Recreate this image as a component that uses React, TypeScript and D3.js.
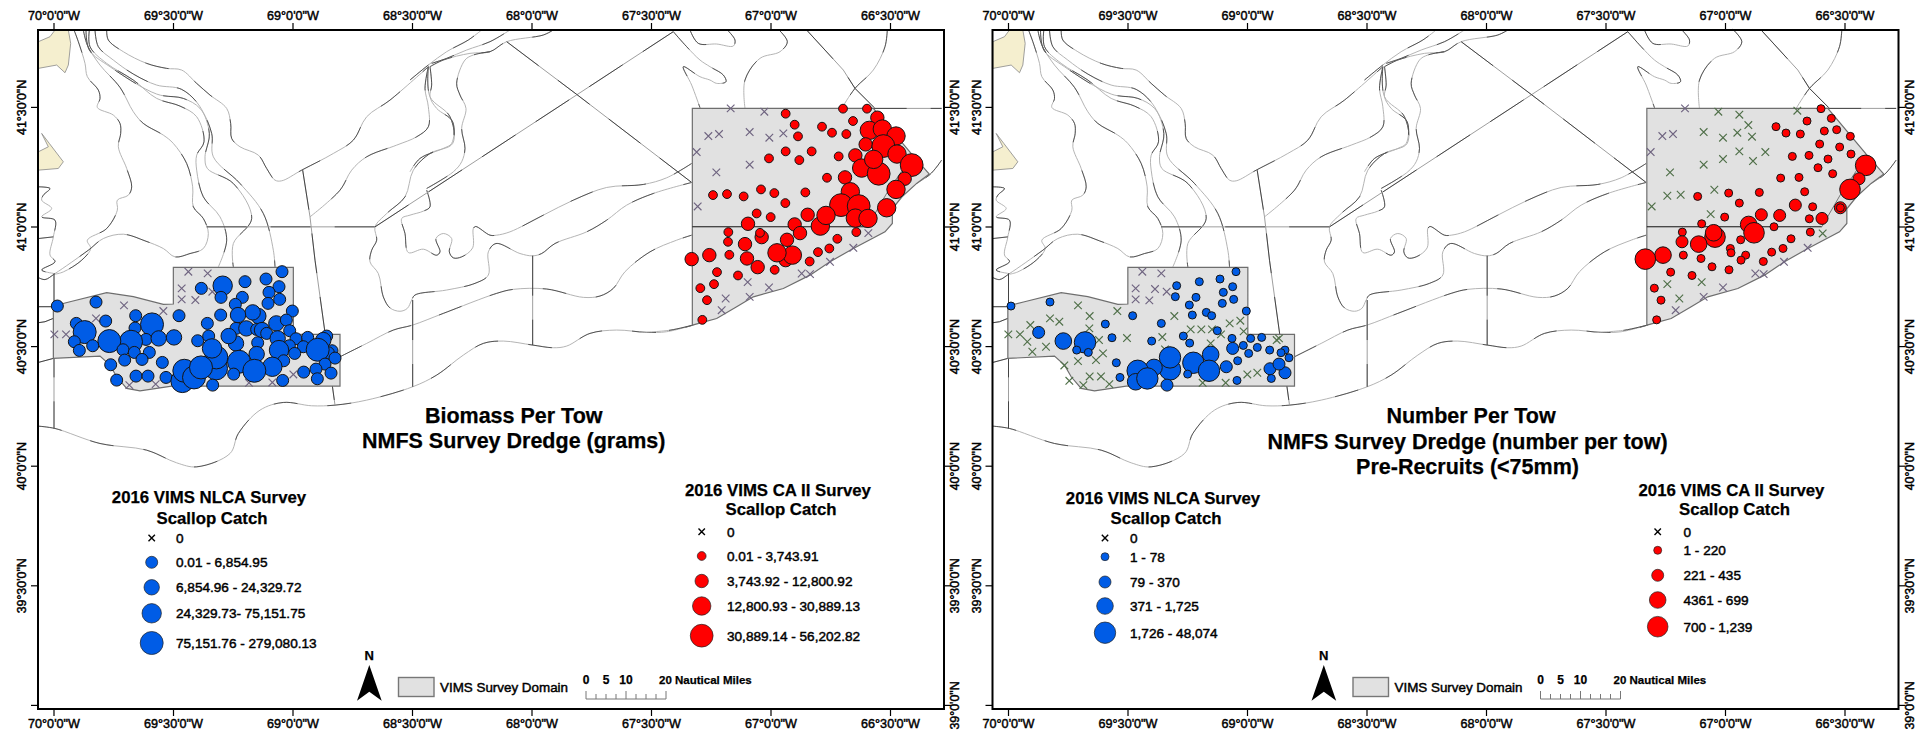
import React from "react";
import * as d3 from "d3";

// Positions are degrees: a sheet origin (lon, lat) plus [east, south] offsets in GRID steps per degree.
const GRID = 717;
const S1 = { lon: -70.2259, lat: 41.949 };
const S2 = { lon: -70.2259, lat: 40.9457 };
const S3 = { lon: -67.5481, lat: 41.6146 };
const S9 = { lon: -68.5105, lat: 41.8445 };
const S10 = { lon: -68.5523, lat: 40.8202 };
const S11 = { lon: -67.2971, lat: 41.8654 };
const SB = { lon: -70.2448, lat: 40.9457 };
const SR = { lon: -67.5251, lat: 41.6146 };
const from = (s: { lon: number; lat: number }, pts: number[][]) =>
  pts.map((p) => [s.lon + p[0] / GRID, s.lat - p[1] / GRID, p[2]] as number[]);

// Land
const capeCod = from(S1, [[115,125],[150,110],[165,90],[205,90],[212,130],[205,195],[195,218],[170,195],[115,205]]);
const nantucket = from(S1, [[125,400],[148,430],[190,485],[175,505],[115,510],[115,455],[145,440]]);

// Bathymetry contours (smooth)
const contourLines = [
  from(S1, [[222,90],[235,125],[255,190],[262,230],[295,270],[300,295],[292,322],[340,345],[360,370],[362,400],[355,440],[380,505],[395,560],[385,585],[352,600],[352,630],[320,685],[262,720],[272,745],[245,780],[190,815],[165,822]]),
  from(S1, [[250,90],[262,135],[300,195],[360,262],[400,335],[430,370],[490,405],[520,430],[560,490],[578,560],[580,620],[610,655],[625,700],[610,745],[570,760],[525,770],[490,745],[435,722],[370,702],[310,715],[265,750],[165,820],[135,838],[115,832]]),
  from(S1, [[268,90],[270,140],[320,190],[400,240],[470,295],[540,318],[590,350],[612,425],[590,465],[590,510],[610,590],[660,650],[680,720],[655,800]]),
  from(S1, [[285,90],[295,140],[340,180],[400,222],[470,255],[545,268],[600,320],[628,400],[615,470],[622,505],[700,550],[755,655],[700,730],[700,800]]),
  from(S1, [[258,90],[268,150],[330,200],[470,282],[550,295],[600,325],[635,400],[640,470],[720,550],[790,640],[820,750],[825,800]]),
  from(S1, [[320,90],[325,120],[370,155],[440,190],[500,205],[545,210],[590,250],[630,285],[680,325],[692,370],[695,415],[720,440],[775,465],[800,505],[825,540],[845,542],[905,510],[1000,460],[1060,420],[1100,350],[1170,300],[1285,200]]),
  from(S1, [[1285,200],[1275,265],[1285,320],[1285,380],[1250,410],[1190,435],[1100,470],[1055,510],[1020,570],[930,650]]),
  [...from(S1, [[1285,200],[1290,290],[1350,350],[1358,430],[1290,460],[1240,510],[1215,590],[1160,640],[1125,680],[1130,720],[1115,750],[1110,785],[1135,820],[1150,890],[1170,923],[1200,933]]),
   ...from(S10, [[22,115],[35,90],[45,75],[140,60],[225,40],[265,15]]),
   ...from(S9, [[235,680],[258,655],[330,685],[368,692],[395,685],[435,655],[530,620],[590,585],[650,540],[730,505],[845,472]])],
  [...from(S1, [[115,560],[150,565],[130,585],[125,600],[155,625],[125,650],[165,660],[160,710]]),
   ...from(S2, [[150,45],[165,65],[125,90],[160,100]])],
  from(S1, [[160,710],[115,715]]),
  [...from(S9, [[50,495],[60,545],[40,558],[0,570]]),
   ...from(S1, [[1205,655],[1215,700],[1225,757]]),
   ...from(S9, [[40,672],[80,690],[90,680],[78,640],[100,625],[125,640],[118,680],[130,698],[155,695],[188,668],[190,610],[197,604],[240,630],[260,630],[300,620],[400,570],[490,525],[590,487],[700,478],[770,458],[845,415]])],
  [...from(S2, [[115,558],[165,565],[300,610],[440,630],[530,668],[590,680],[690,640],[715,580],[780,510],[850,487],[935,497],[1005,495],[1100,480],[1238,440]]),
   ...from(S10, [[110,315],[190,255],[250,220],[310,213],[398,225],[460,233],[500,228],[570,190],[650,180],[740,187],[800,185],[880,165]])],
  [...from(S2, [[1020,350],[1100,310],[1180,270],[1238,255]]),
   ...from(S10, [[130,130],[290,70],[340,58],[440,57],[550,82],[600,78],[640,55],[675,5]]),
   ...from(S9, [[720,680],[800,645],[845,630]])],
  from(S9, [[0,165],[55,120],[110,80],[175,45],[215,15]]),
  from(S9, [[60,125],[100,105],[180,85],[240,80],[290,50],[400,30],[430,15]]),
  from(S9, [[65,115],[110,100],[170,75],[240,50],[300,15]]),
  from(S9, [[50,490],[130,440],[155,410],[165,370],[155,310],[168,250],[150,210],[140,175],[165,105],[190,90],[240,80]]),
  from(S9, [[60,125],[65,180],[60,215],[80,250],[128,290],[125,355],[100,370],[30,400],[0,440]]),
  from(S11, [[-30,30],[-5,70],[50,72],[100,78],[105,60],[80,28]]),
  from(S11, [[-80,35],[-40,80],[0,120],[30,140],[70,165],[78,185],[50,190],[30,180],[0,170],[-50,140],[-25,195],[0,263]]),
  from(S11, [[235,28],[262,65],[240,95],[180,115],[135,180],[135,265]]),
  from(S11, [[562,28],[555,80],[520,150],[465,205],[425,265]]),
  from(S3, [[905,240],[868,285],[795,328]]),
  from(S3, [[157,735],[90,750],[0,757]]),
];

// Straight boundary lines
const boundaryLines = [
  from(S1, [[620,680],[1125,680]]),
  [...from(S1, [[908,510],[930,650],[945,780]]), ...from(S2, [[1005,495]])],
  [...from(S1, [[1125,680]]), ...from(S9, [[790,20]])],
  from(S9, [[290,50],[500,208],[845,472]]),
  from(S2, [[162,100],[162,565]]),
  from(S2, [[1238,180],[1238,440]]),
  from(S10, [[398,-43],[398,225]]),
  from(S2, [[115,200],[160,200]]),
  from(S2, [[115,248],[135,245],[160,235]]),
  from(S2, [[115,367],[160,355]]),
  from(S11, [[318,28],[430,150],[465,205],[525,265]]),
  from(S11, [[500,265],[725,265]]),
];

// Survey domains
const domainNLCA = from(S2, [[160,198],[210,185],[320,158],[400,170],[490,193],[520,192],[520,82],[880,82],[880,283],[1020,283],[1020,438],[515,438],[470,445],[420,452],[380,445],[350,410],[330,375],[300,348],[160,355]]);
const domainCA2 = from(S3, [[157,85],[700,85],[815,222],[868,282],[830,310],[786,350],[757,386],[757,430],[735,455],[640,505],[570,545],[510,585],[430,625],[340,650],[290,680],[230,715],[157,735]]);
const domainLines = [
  from(S3, [[157,440],[682,440]]),
  from(S3, [[682,440],[737,345],[787,270],[812,225]]),
];

// Panel 1: biomass per tow. Stations: east, south, catch class
const biomassNLCAZero = from(S2, [[565,95],[623,100],[545,145],[545,178],[586,180],[637,155],[372,196],[490,213],[288,235],[163,283],[198,283],[388,435],[467,432],[747,428],[817,427],[880,403]]);
const biomassNLCA = from(S2, [[172,198,1],[288,186,1],[846,95,1],[735,125,1],[798,117,1],[837,140,1],[668,137,3],[604,145,1],[807,157,1],[839,178,1],[663,172,1],[727,172,1],[804,190,1],[706,193,1],[877,213,1],[662,225,1],[537,227,1],[775,228,2],[758,217,2],[714,225,2],[829,250,2],[859,240,1],[622,250,1],[407,227,1],[317,243,1],[229,250,1],[254,276,4],[405,264,1],[456,253,4],[869,272,1],[708,265,1],[739,265,2],[770,268,1],[786,270,2],[800,280,1],[888,296,1],[923,292,1],[980,288,1],[970,300,2],[522,292,2],[438,298,1],[476,295,2],[393,305,4],[328,303,4],[223,305,1],[278,317,1],[238,331,1],[369,329,1],[403,337,1],[448,337,1],[593,302,1],[626,288,1],[708,310,2],[686,288,2],[773,308,1],[833,295,2],[868,317,1],[910,320,1],[837,330,3],[884,340,1],[996,332,1],[985,338,1],[953,329,4],[770,342,2],[1005,354,1],[851,362,1],[374,360,1],[426,358,1],[487,367,1],[332,374,1],[975,372,1],[648,385,4],[649,352,4],[636,325,3],[717,365,4],[817,380,3],[763,392,4],[948,387,1],[993,399,1],[911,396,1],[701,402,1],[350,420,1],[408,408,1],[444,408,1],[498,412,1],[952,416,1],[547,423,4],[553,392,4],[582,412,4],[603,382,4],[638,435,1],[848,421,1]]);
const biomassCA2Zero = from(S3, [[272,85],[373,95],[205,168],[237,162],[329,156],[388,173],[430,160],[170,216],[329,254],[229,277],[173,379],[685,459],[640,503],[570,545],[485,580],[510,582],[323,606],[387,622],[257,655],[329,650],[245,690]]);
const biomassCA2 = from(S3, [[437,101,1],[609,86,1],[681,86,1],[464,134,1],[639,123,1],[546,140,1],[576,158,1],[619,162,1],[474,169,1],[712,113,2],[688,151,3],[727,147,3],[768,168,3],[677,193,2],[730,198,4],[437,214,1],[515,214,1],[596,229,1],[387,235,1],[478,240,1],[646,226,2],[771,222,3],[665,264,3],[716,281,4],[701,238,3],[815,255,4],[561,293,1],[615,292,2],[794,296,2],[768,328,3],[219,345,1],[261,342,1],[311,349,1],[363,328,1],[403,339,1],[496,337,1],[631,335,3],[436,369,1],[740,383,3],[603,375,4],[656,378,4],[350,400,1],[392,411,1],[503,404,2],[541,438,3],[558,406,3],[646,414,3],[684,415,3],[324,431,2],[464,433,2],[480,459,2],[649,456,1],[265,456,1],[365,471,2],[360,458,1],[264,485,1],[441,479,2],[592,476,1],[315,492,2],[568,505,1],[208,525,2],[268,524,1],[534,516,1],[155,537,2],[321,535,2],[437,540,2],[457,525,3],[411,518,3],[509,544,1],[353,561,2],[231,576,1],[404,569,1],[294,586,1],[222,612,1],[181,624,1],[201,660,1],[187,719,1]]);

// Panel 2: number per tow (pre-recruits)
const numberNLCAZeroA = from(SB, [[577,95],[634,100],[557,145],[615,147],[650,155],[557,178],[598,181]]);
const numberNLCAZeroB = from(SB, [[384,196],[502,213],[241,255],[300,235],[328,245],[419,228],[673,228],[418,265],[722,268],[754,268],[786,268],[839,250],[871,242],[881,274],[813,283],[175,283],[210,283],[232,305],[288,320],[247,335],[447,300],[531,294],[637,291],[782,310],[987,295],[980,300],[459,340],[438,360],[384,363],[343,376],[645,328],[892,403],[922,398],[419,409],[453,409],[358,422],[400,435],[478,432],[758,428],[827,428]]);
const numberNLCA = from(SB, [[183,198,1],[300,186,1],[858,95,1],[748,125,1],[810,117,1],[848,140,1],[680,137,1],[820,157,1],[851,178,1],[676,170,1],[738,172,1],[817,190,1],[718,195,1],[889,213,1],[548,227,1],[727,225,1],[769,217,1],[785,227,1],[466,252,1],[634,250,1],[802,272,1],[266,277,2],[340,303,3],[405,307,4],[486,293,1],[700,288,1],[605,303,1],[719,309,1],[846,295,1],[902,295,1],[935,292,1],[880,316,1],[922,322,1],[848,325,2],[959,330,1],[1005,330,1],[993,338,1],[380,330,1],[415,337,1],[896,340,1],[1017,353,1],[863,362,1],[499,368,1],[782,343,3],[660,388,4],[660,352,4],[612,382,3],[563,392,4],[730,368,4],[829,380,2],[777,392,4],[960,386,2],[1005,398,2],[987,372,2],[713,402,1],[510,412,1],[964,415,1],[557,425,3],[592,415,4],[651,435,2],[861,421,1]]);
const numberCA2ZeroA = from(SR, [[255,85],[187,168],[219,162],[152,216],[623,503],[552,545],[466,580],[491,582],[369,622],[311,650],[227,690]]);
const numberCA2ZeroB = from(SR, [[355,95],[592,92],[418,104],[445,135],[311,156],[369,173],[412,158],[456,170],[418,214],[496,216],[369,237],[459,243],[311,254],[210,277],[202,347],[242,344],[343,329],[155,379],[332,402],[668,460],[305,606],[202,612],[238,655]]);
const numberCA2 = from(SR, [[663,86,1],[694,115,1],[621,123,1],[710,149,1],[528,140,1],[558,159,1],[601,162,1],[673,153,1],[751,169,1],[659,192,1],[719,201,1],[753,222,1],[577,229,1],[627,226,1],[684,237,1],[654,263,1],[797,256,4],[698,281,1],[542,294,1],[597,292,1],[777,296,2],[750,328,4],[614,335,1],[293,349,1],[386,339,1],[478,337,1],[418,369,1],[586,375,2],[638,380,1],[721,383,2],[721,383,1],[374,411,1],[484,404,2],[539,406,2],[628,416,1],[666,415,2],[305,431,1],[446,433,3],[522,440,1],[247,456,1],[631,456,1],[345,471,4],[341,458,3],[462,458,4],[422,479,1],[246,485,2],[573,476,1],[296,492,3],[391,505,1],[393,518,1],[549,505,1],[515,516,1],[250,525,1],[437,525,1],[303,535,1],[423,540,1],[490,544,1],[189,525,3],[136,537,4],[336,560,1],[212,576,1],[387,569,1],[276,586,1],[163,624,1],[183,660,1],[170,719,1]]);

// Axes
const lonTicks = [-70, -69.5, -69, -68.5, -68, -67.5, -67, -66.5];
const latTicks = [41.5, 41, 40.5, 40, 39.5, 39];
const scaleMiles = [0, 2.5, 5, 7.5, 10, 12.5, 15, 17.5, 20];

// Legend labels
const biomassLabelsNLCA = ["0", "0.01 - 6,854.95", "6,854.96 - 24,329.72", "24,329.73- 75,151.75", "75,151.76 - 279,080.13"];
const biomassLabelsCA2 = ["0", "0.01 - 3,743.91", "3,743.92 - 12,800.92", "12,800.93 - 30,889.13", "30,889.14 - 56,202.82"];
const numberLabelsNLCA = ["0", "1 - 78", "79 - 370", "371 - 1,725", "1,726 - 48,074"];
const numberLabelsCA2 = ["0", "1 - 220", "221 - 435", "4361 - 699", "700 - 1,239"];

const x = d3.scaleLinear().domain([-70, -66.5]).range([54, 890.5]);
const y = d3.scaleLinear().domain([41.5, 39]).range([107.4, 705.4]);
const milesX = d3.scaleLinear().domain([0, 20]).range([0, 80]);
const PANEL2 = 954.5;
const BLUE = "#005ce6";
const RED = "#ff0000";
const FONT = "'Liberation Sans', Arial, sans-serif";
const smooth = d3.line<number[]>().x((d) => x(d[0])).y((d) => y(d[1])).curve(d3.curveCatmullRom.alpha(0.5));
const straight = d3.line<number[]>().x((d) => x(d[0])).y((d) => y(d[1]));
const area = d3.line<number[]>().x((d) => x(d[0])).y((d) => y(d[1])).curve(d3.curveLinearClosed);

const dms = (v: number, h: string) => {
  const a = Math.abs(v);
  const d = Math.floor(a);
  const m = Math.round((a - d) * 60);
  return `${d}°${m}'0"${h}`;
};

function T({ x: tx, y: ty, s = 13.6, b = false, a = "start", children, rot, sw }: any) {
  return (
    <text
      x={tx}
      y={ty + s * 0.36}
      fontSize={s}
      fontWeight={b ? 700 : 400}
      textAnchor={a}
      fontFamily={FONT}
      fill="#000"
      stroke="#000"
      strokeWidth={sw ?? (b ? 0.25 : 0.45)}
      transform={rot ? `rotate(${rot} ${tx} ${ty})` : undefined}
    >
      {children}
    </text>
  );
}

function Cross({ cx, cy, c, w = 3.8, sw = 1.15 }: any) {
  return (
    <path
      d={`M${cx - w},${cy - w}L${cx + w},${cy + w}M${cx - w},${cy + w}L${cx + w},${cy - w}`}
      stroke={c}
      strokeWidth={sw}
      fill="none"
    />
  );
}

function Stations({ data, color, radii }: any) {
  return (
    <g>
      {data.map((d: number[], i: number) => (
        <circle key={i} cx={x(d[0])} cy={y(d[1])} r={radii[d[2]]} fill={color} stroke="#151515" strokeWidth={1} />
      ))}
    </g>
  );
}

function Zeros({ data, color }: any) {
  return (
    <g>
      {data.map((d: number[], i: number) => (
        <Cross key={i} cx={x(d[0])} cy={y(d[1])} c={color} />
      ))}
    </g>
  );
}

function Legend({ title, cx, tx, ys, titleY, labels, color, radii, textX }: any) {
  return (
    <g>
      <T x={cx} y={titleY[0]} s={16.8} b a="middle">{title}</T>
      <T x={cx + 3} y={titleY[1]} s={16.8} b a="middle">Scallop Catch</T>
      <Cross cx={tx} cy={ys[0]} c="#000" w={3.2} sw={1.4} />
      {ys.slice(1).map((yy: number, i: number) => (
        <circle key={i} cx={tx} cy={yy} r={radii[i + 1]} fill={color} stroke="#222" strokeWidth={0.7} />
      ))}
      {labels.map((l: string, i: number) => (
        <T key={i} x={textX} y={ys[i]}>{l}</T>
      ))}
    </g>
  );
}

function BaseMap() {
  const labels = latTicks.map((v) => y(v));
  return (
    <g>
      <path d={area(capeCod) as string} fill="#f5efcf" stroke="#888" strokeWidth={0.8} />
      <path d={area(nantucket) as string} fill="#f5efcf" stroke="#888" strokeWidth={0.8} />
      {contourLines.map((l, i) => (
        <g key={i} fill="none">
          <path d={smooth(l) as string} stroke="#b0b0b0" strokeWidth={0.95} />
          <path d={smooth(l) as string} stroke="#1c1c1c" strokeWidth={0.65} strokeDasharray="24 30" />
        </g>
      ))}
      {boundaryLines.map((l, i) => (
        <g key={i} fill="none">
          <path d={straight(l) as string} stroke="#999" strokeWidth={0.95} />
          <path d={straight(l) as string} stroke="#111" strokeWidth={0.65} strokeDasharray="40 24" />
        </g>
      ))}
      <path d={area(domainNLCA) as string} fill="#e1e1e1" stroke="#6e6e6e" strokeWidth={1.2} />
      <path d={area(domainCA2) as string} fill="#e1e1e1" stroke="#6e6e6e" strokeWidth={1.2} />
      <path d={straight(domainLines[0]) as string} stroke="#111" strokeWidth={1} fill="none" />
      <path d={straight(domainLines[1]) as string} stroke="#777" strokeWidth={1} fill="none" />
      <rect x={38} y={30} width={906} height={679} fill="none" stroke="#000" strokeWidth={2} />
      {lonTicks.map((v) => (
        <g key={v}>
          <line x1={x(v)} x2={x(v)} y1={23} y2={30} stroke="#000" strokeWidth={1.2} />
          <line x1={x(v)} x2={x(v)} y1={709} y2={716} stroke="#000" strokeWidth={1.2} />
          <T x={x(v)} y={15} s={12.6} a="middle">{dms(v, "W")}</T>
          <T x={x(v)} y={723} s={12.6} a="middle">{dms(v, "W")}</T>
        </g>
      ))}
      {latTicks.map((v, i) => (
        <g key={v}>
          <line x1={31} x2={38} y1={labels[i]} y2={labels[i]} stroke="#000" strokeWidth={1.2} />
          <line x1={944} x2={951} y1={labels[i]} y2={labels[i]} stroke="#000" strokeWidth={1.2} />
          {v !== 39 && <T x={22} y={labels[i]} s={12.4} a="middle" rot={-90}>{dms(v, "N")}</T>}
          <T x={955} y={labels[i]} s={12.4} a="middle" rot={-90}>{dms(v, "N")}</T>
        </g>
      ))}
      <T x={369.3} y={655} s={13} b a="middle">N</T>
      <path d="M369.3,665L381.7,700.7L369.3,691.7L357,700.7Z" fill="#000" />
      <rect x={398.5} y={677.5} width={35.5} height={19} fill="#e1e1e1" stroke="#777" strokeWidth={1.4} />
      <T x={440} y={687} s={13.4}>VIMS Survey Domain</T>
      <T x={586} y={680} s={12} b a="middle">0</T>
      <T x={606} y={680} s={12} b a="middle">5</T>
      <T x={626} y={680} s={12} b a="middle">10</T>
      <T x={659} y={680} s={11.5} b>20 Nautical Miles</T>
      <g transform="translate(586,699)" stroke="#777" strokeWidth={1} fill="none">
        <line x1={milesX(0)} x2={milesX(20)} y1={0} y2={0} />
        {scaleMiles.map((m) => (
          <line key={m} x1={milesX(m)} x2={milesX(m)} y1={0} y2={m % 10 === 0 ? -8 : -5} />
        ))}
      </g>
    </g>
  );
}

export default function App() {
  return (
    <svg width={1915} height={731} viewBox="0 0 1915 731" style={{ position: "absolute", left: 0, top: 0, background: "#fff" }}>
      <g>
        <BaseMap />
        <Zeros data={biomassNLCAZero} color="#6f6480" />
        <Zeros data={biomassCA2Zero} color="#6f6480" />
        <Stations data={biomassNLCA} color={BLUE} radii={[0, 6, 7.7, 9.7, 11.5]} />
        <Stations data={biomassCA2} color={RED} radii={[0, 4.4, 6.7, 9.2, 11.4]} />
        <T x={513.7} y={415} s={21.5} b a="middle">Biomass Per Tow</T>
        <T x={513.7} y={440} s={21.5} b a="middle">NMFS Survey Dredge (grams)</T>
        <Legend title="2016 VIMS NLCA Survey" cx={209} tx={151.7} titleY={[497, 517.7]} ys={[538, 562.3, 587.3, 613.3, 643]} labels={biomassLabelsNLCA} color={BLUE} radii={[0, 6, 7.7, 9.7, 11.5]} textX={176} />
        <Legend title="2016 VIMS CA II Survey" cx={778} tx={701.7} titleY={[490, 509]} ys={[531.7, 556, 581, 606, 635.7]} labels={biomassLabelsCA2} color={RED} radii={[0, 4.4, 6.7, 9.2, 11.4]} textX={727} />
      </g>
      <g transform={`translate(${PANEL2},0)`}>
        <BaseMap />
        <Zeros data={numberNLCAZeroA} color="#6f6480" />
        <Zeros data={numberNLCAZeroB} color="#4f6f48" />
        <Zeros data={numberCA2ZeroA} color="#6f6480" />
        <Zeros data={numberCA2ZeroB} color="#4f6f48" />
        <Stations data={numberNLCA} color={BLUE} radii={[0, 4, 6, 8.3, 10.7]} />
        <Stations data={numberCA2} color={RED} radii={[0, 4, 6, 8.3, 10.3]} />
        <T x={516.5} y={415} s={21.5} b a="middle">Number Per Tow</T>
        <T x={513} y={441.7} s={21.5} b a="middle">NMFS Survey Dredge (number per tow)</T>
        <T x={513} y={466.7} s={21.5} b a="middle">Pre-Recruits (&lt;75mm)</T>
        <Legend title="2016 VIMS NLCA Survey" cx={208.5} tx={150.5} titleY={[498, 517.7]} ys={[538, 556.7, 582, 606, 632.7]} labels={numberLabelsNLCA} color={BLUE} radii={[0, 4, 6, 8.3, 10.7]} textX={175.5} />
        <Legend title="2016 VIMS CA II Survey" cx={777} tx={703.2} titleY={[490, 509]} ys={[531.7, 550.3, 575.3, 600, 626.7]} labels={numberLabelsCA2} color={RED} radii={[0, 4, 6, 8.3, 10.3]} textX={729} />
      </g>
    </svg>
  );
}
